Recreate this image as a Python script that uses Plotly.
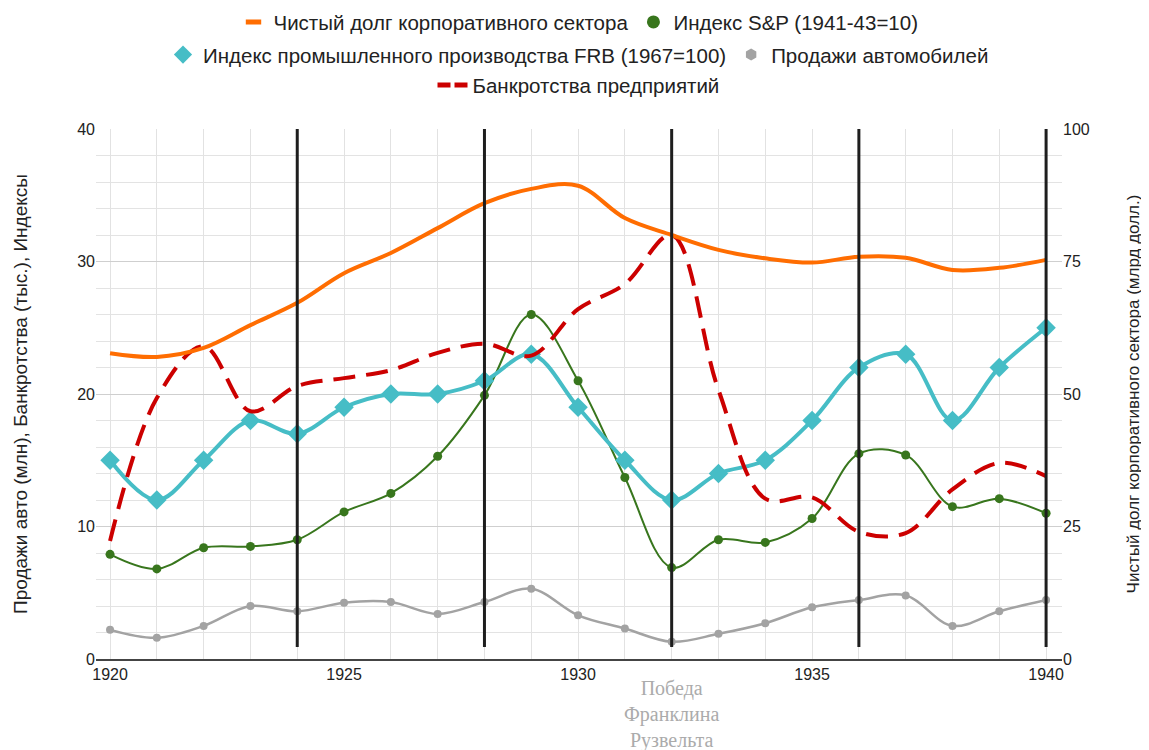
import plotly.graph_objects as go

years = list(range(1920, 1941))
corp_debt = [57.7, 57.0, 58.7, 63.0, 67.2, 72.8, 76.6, 81.3, 86.0, 88.7, 89.3, 83.2, 80.0,
             77.2, 75.6, 74.8, 75.9, 75.7, 73.4, 73.8, 75.3]
sp_index = [7.9, 6.8, 8.4, 8.5, 9.0, 11.1, 12.5, 15.3, 19.9, 26.0, 21.0, 13.7, 6.9,
            9.0, 8.8, 10.6, 15.5, 15.4, 11.5, 12.1, 11.0]
frb_index = [15, 12, 15, 18, 17, 19, 20, 20, 21, 23, 19, 15, 12, 14, 15, 18, 22, 23, 18, 22, 25]
auto_sales = [2.2, 1.6, 2.5, 4.0, 3.6, 4.25, 4.3, 3.4, 4.3, 5.3, 3.3, 2.3, 1.3,
              1.9, 2.7, 3.9, 4.45, 4.8, 2.5, 3.6, 4.45]
bankruptcies = [8.9, 19.7, 23.6, 18.7, 20.6, 21.2, 21.8, 23.1, 23.8, 22.9, 26.4, 28.3, 32.0,
                20.3, 12.1, 12.2, 9.6, 9.5, 12.8, 14.8, 13.8]
election_years = [1924, 1928, 1932, 1936, 1940]
x_ticks = [1920, 1925, 1930, 1935, 1940]

name_debt = "Чистый долг корпоративного сектора"
name_sp = "Индекс S&P (1941-43=10)"
name_frb = "Индекс промышленного производства FRB (1967=100)"
name_auto = "Продажи автомобилей"
name_bank = "Банкротства предприятий"

C_ORANGE = "#ff6d01"
C_GREEN = "#38761d"
C_TEAL = "#46bdc6"
C_GREY = "#a3a3a3"
C_RED = "#cc0000"

fig = go.Figure()

# data traces (legend drawn by separate entries)
fig.add_trace(go.Scatter(x=years, y=corp_debt, yaxis="y2", mode="lines",
                         line=dict(color=C_ORANGE, width=4, shape="spline", smoothing=1),
                         showlegend=False, name=name_debt))
fig.add_trace(go.Scatter(x=years, y=sp_index, mode="lines+markers",
                         line=dict(color=C_GREEN, width=2, shape="spline", smoothing=1),
                         marker=dict(color=C_GREEN, size=9),
                         showlegend=False, name=name_sp))
fig.add_trace(go.Scatter(x=years, y=frb_index, mode="lines+markers",
                         line=dict(color=C_TEAL, width=4, shape="spline", smoothing=1),
                         marker=dict(color=C_TEAL, size=15, symbol="diamond"),
                         showlegend=False, name=name_frb))
fig.add_trace(go.Scatter(x=years, y=auto_sales, mode="lines+markers",
                         line=dict(color=C_GREY, width=2.5, shape="spline", smoothing=1),
                         marker=dict(color=C_GREY, size=8),
                         showlegend=False, name=name_auto))
fig.add_trace(go.Scatter(x=years, y=bankruptcies, mode="lines",
                         line=dict(color=C_RED, width=4, shape="spline", smoothing=1, dash="22px,11px"),
                         showlegend=False, name=name_bank))

# legend entries
fig.add_trace(go.Scatter(x=[None], y=[None], mode="markers", name=name_debt, legend="legend",
                         marker=dict(symbol="line-ew", size=11, line=dict(color=C_ORANGE, width=5))))
fig.add_trace(go.Scatter(x=[None], y=[None], mode="markers", name=name_sp, legend="legend",
                         marker=dict(color=C_GREEN, size=13)))
fig.add_trace(go.Scatter(x=[None], y=[None], mode="markers", name=name_frb, legend="legend2",
                         marker=dict(color=C_TEAL, size=14, symbol="diamond")))
fig.add_trace(go.Scatter(x=[None], y=[None], mode="markers", name=name_auto, legend="legend2",
                         marker=dict(color=C_GREY, size=12, symbol="hexagon")))
fig.add_trace(go.Scatter(x=[None], y=[None], mode="lines", name=name_bank, legend="legend3",
                         line=dict(color=C_RED, width=5, dash="13px,4px")))

for yr in election_years:
    fig.add_shape(type="line", xref="x", yref="y", x0=yr, x1=yr, y0=0.9, y1=40,
                  line=dict(color="#1e1e1e", width=3), layer="above")

fig.add_annotation(text="Победа<br>Франклина<br>Рузвельта", xref="x", yref="paper",
                   x=1932, y=-0.030, yanchor="top", showarrow=False,
                   font=dict(family="Liberation Serif, Times New Roman, serif", size=20, color="#ababab"))

leg_common = dict(orientation="h", xref="container", xanchor="center", x=0.5,
                  yref="container", yanchor="middle",
                  font=dict(size=20.5, color="#222"), bgcolor="rgba(0,0,0,0)")

fig.update_layout(
    width=1141, height=742,
    margin=dict(l=88, r=87, t=121, b=91, autoexpand=False),
    plot_bgcolor="white", paper_bgcolor="white",
    font=dict(family="Liberation Sans, Arial, sans-serif", size=16, color="#222"),
    legend=dict(**leg_common, y=0.981),
    legend2=dict(**leg_common, y=0.937),
    legend3=dict(**leg_common, y=0.896),
    xaxis=dict(range=[1919.7, 1940.34], tickvals=x_ticks, showgrid=True, gridcolor="#e2e2e2",
               minor=dict(tick0=1920, dtick=1, showgrid=True, gridcolor="#e2e2e2"),
               showline=True, linecolor="#444", linewidth=2, zeroline=False,
               tickfont=dict(size=16)),
    yaxis=dict(range=[0, 40], dtick=10, gridcolor="#cfcfcf", showgrid=True,
               minor=dict(dtick=2, showgrid=True, gridcolor="#e3e3e3"),
               zeroline=False, tickfont=dict(size=16),
               title=dict(text="Продажи авто (млн), Банкротства (тыс.), Индексы",
                          font=dict(size=19), standoff=44)),
    yaxis2=dict(range=[0, 100], dtick=25, overlaying="y", side="right", showgrid=False,
                zeroline=False, tickfont=dict(size=16),
                title=dict(text="Чистый долг корпоративного сектора (млрд долл.)",
                           font=dict(size=17), standoff=38)),
)

fig.write_html("out.html")
